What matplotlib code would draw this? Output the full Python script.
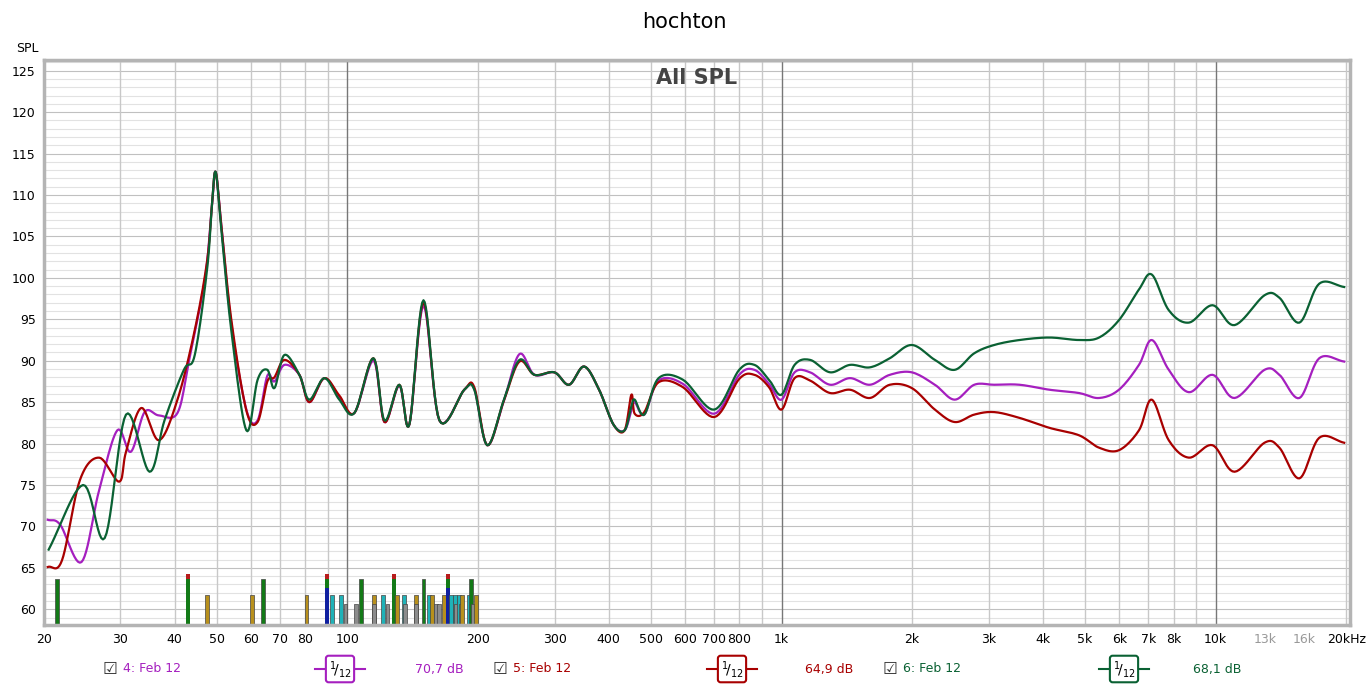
import numpy as np
import matplotlib
matplotlib.use("Agg")
import matplotlib.pyplot as plt

# ---- data ----
f_low_g = [20.5, 24.6, 27.6, 30.9, 35.0, 37.9, 42.0, 44.5, 47.5, 48.7]
g_low = [67.2, 75.0, 68.6, 83.5, 76.6, 82.8, 88.9, 90.7, 101.0, 108.5]
f_low_p = [20.4, 21.8, 24.4, 26.8, 29.5, 31.7, 34.1, 36.8, 40.6, 43.2, 47.0, 48.7]
p_low = [70.8, 70.2, 65.7, 74.4, 81.6, 79.0, 83.8, 83.4, 83.7, 90.1, 100.0, 108.5]
f_low_r = [20.4, 22.0, 24.2, 26.8, 29.8, 30.9, 33.5, 36.8, 40.6, 44.5, 47.5, 48.7]
r_low = [65.1, 65.9, 75.6, 78.3, 75.4, 79.0, 84.3, 80.4, 85.3, 93.7, 102.0, 108.5]

f_mid = [49.7, 51.2, 54.0, 58.5, 62.1, 65.4, 67.9, 71.6, 77.5, 81.7, 88.5, 95.8, 103.8,
         114.8, 121.7, 131.7, 138.9, 149.7, 162.9, 185.9, 196, 210, 229.4, 249,
         269.6, 299.7, 324, 351, 380, 410, 435, 451, 459, 483, 521, 593, 700,
         799, 866, 936]
g_mid = [112.8, 106.0, 93.7, 81.6, 87.7, 88.9, 86.7, 90.7, 88.3, 85.3, 87.9, 85.3, 83.7,
         90.3, 82.8, 87.1, 82.3, 97.3, 82.8, 86.5, 86.5, 79.8, 85.3, 90.1,
         88.3, 88.6, 87.1, 89.3, 86.5, 82.3, 81.6, 84.5, 85.3, 83.5, 87.9, 87.7, 84.1,
         88.9, 89.5, 87.7]
p_mid = [112.8, 106.5, 94.5, 84.1, 82.8, 88.2, 87.5, 89.5, 88.3, 85.0, 87.9, 85.6, 83.7,
         90.0, 82.6, 87.0, 82.3, 96.6, 82.8, 86.5, 86.6, 79.8, 85.2, 90.8,
         88.3, 88.6, 87.1, 89.3, 86.5, 82.3, 81.6, 84.0, 85.0, 83.5, 87.6, 87.2, 83.6,
         88.3, 88.9, 87.2]
r_mid = [112.8, 106.5, 95.0, 84.0, 82.6, 87.5, 88.0, 90.1, 88.3, 85.0, 87.9, 85.8, 83.7,
         90.3, 82.6, 87.1, 82.3, 97.0, 82.8, 86.5, 86.8, 79.8, 85.2, 89.9,
         88.3, 88.6, 87.1, 89.3, 86.5, 82.3, 81.6, 85.9, 83.6, 83.8, 87.4, 86.8, 83.2,
         87.8, 88.3, 86.8]

f_high = [1000, 1072, 1164, 1294, 1438, 1598, 1776, 1996, 2256, 2506, 2780, 3090,
          3534, 4140, 4846, 5390, 5990, 6660, 7130, 7800, 8680, 9840, 11060,
          12960, 14030, 15600, 17330, 19780]
g_high = [85.9, 89.5, 90.1, 88.6, 89.5, 89.2, 90.3, 91.9, 90.1, 88.9, 90.9, 91.9,
          92.5, 92.8, 92.5, 92.8, 94.9, 98.6, 100.4, 96.1, 94.6, 96.7, 94.3,
          97.9, 97.6, 94.6, 99.3, 98.9]
p_high = [85.3, 88.6, 88.6, 87.1, 87.9, 87.1, 88.3, 88.6, 87.1, 85.3, 87.1, 87.1,
          87.1, 86.5, 86.1, 85.5, 86.5, 89.5, 92.5, 88.9, 86.2, 88.3, 85.5,
          88.9, 88.3, 85.5, 90.3, 89.9]
r_high = [84.1, 87.9, 87.6, 86.1, 86.5, 85.5, 87.1, 86.7, 84.1, 82.6, 83.5, 83.8,
          83.1, 81.9, 81.0, 79.5, 79.2, 81.6, 85.3, 80.4, 78.3, 79.8, 76.6,
          80.1, 79.5, 75.8, 80.7, 80.1]

# resonance marker bars: (freq, top dB, kind)
bar_freqs = [21.4, 43.0, 47.5, 60.4, 63.9, 80.5, 89.6, 92.0, 96.5, 99.0, 104.9,
             107.7, 115.4, 115.4, 121.0, 123.7, 128.3, 130.0, 135.0, 136.0, 144.0,
             144.0, 149.7, 154.5, 156.5, 160.0, 162.5, 167.2, 170.6, 173.0, 177.0,
             178.0, 181.0, 183.0, 184.0, 191.0, 193.0, 194.5, 198.0]
bar_tops = [63.6, 64.3, 61.7, 61.7, 63.6, 61.7, 64.3, 61.7, 61.7, 60.6, 60.6,
            63.6, 61.7, 60.6, 61.7, 60.6, 64.3, 61.7, 61.7, 60.6, 61.7,
            60.6, 63.6, 61.7, 61.7, 60.6, 60.6, 61.7, 64.3, 61.7, 61.7,
            60.6, 61.7, 60.6, 61.7, 61.7, 63.6, 60.6, 61.7]
bar_kinds = ['g', 'gr', 'y', 'y', 'g', 'y', 'bgr', 'c', 'c', 'k', 'k',
             'g', 'y', 'k', 'c', 'k', 'gr', 'y', 'c', 'k', 'y',
             'k', 'g', 'c', 'y', 'k', 'k', 'y', 'bgr', 'c', 'c',
             'k', 'c', 'k', 'y', 'c', 'g', 'k', 'y']

x_ticks = [20, 30, 40, 50, 60, 70, 80, 100, 200, 300, 400, 500, 600, 700, 800,
           1000, 2000, 3000, 4000, 5000, 6000, 7000, 8000, 10000, 13000, 16000, 20000]
x_labels = ['20', '30', '40', '50', '60', '70', '80', '100', '200', '300', '400',
            '500', '600', '700', '800', '1k', '2k', '3k', '4k', '5k', '6k', '7k',
            '8k', '10k', '13k', '16k', '20kHz']
y_ticks = list(range(60, 126, 5))

GREEN = '#0a6133'
PURPLE = '#a51fbf'
RED = '#a80000'


def smooth(fl, vl, n=12):
    """Catmull-Rom drawing of the read points in log-frequency (rendering only)."""
    x = np.log10(np.asarray(fl, float))
    y = np.asarray(vl, float)
    xp = np.concatenate([[2*x[0]-x[1]], x, [2*x[-1]-x[-2]]])
    yp = np.concatenate([[2*y[0]-y[1]], y, [2*y[-1]-y[-2]]])
    xs, ys = [], []
    t = np.linspace(0, 1, n, endpoint=False)
    for i in range(1, len(xp)-2):
        p0, p1, p2, p3 = (np.array([xp[j], yp[j]]) for j in (i-1, i, i+1, i+2))
        for tt in t:
            pt = 0.5*((2*p1) + (-p0+p2)*tt + (2*p0-5*p1+4*p2-p3)*tt**2 + (-p0+3*p1-3*p2+p3)*tt**3)
            xs.append(pt[0]); ys.append(pt[1])
    xs.append(x[-1]); ys.append(y[-1])
    return 10**np.array(xs), np.array(ys)


fig = plt.figure(figsize=(13.69, 6.84), dpi=100)
ax = fig.add_axes([44/1369, 59/684, 1306/1369, 565/684])
ax.set_xscale('log')
ax.set_xlim(20.2, 20400)
ax.set_ylim(58.1, 126.3)

for yv in range(59, 127):
    ax.axhline(yv, color='#e2e2e2' if yv % 5 else '#c0c0c0', lw=0.8, zorder=0)
grid_f = [dec*m for dec in [10, 100, 1000, 10000] for m in range(1, 10)]
for fv in grid_f:
    if 20 <= fv <= 20400:
        dark = fv in (100, 1000, 10000)
        ax.axvline(fv, color='#777777' if dark else '#c8c8c8', lw=1.0, zorder=0)

ax.set_xticks(x_ticks)
ax.set_xticklabels(x_labels, fontsize=9)
for lbl in ax.get_xticklabels():
    if lbl.get_text() in ('13k', '16k'):
        lbl.set_color('#999999')
ax.xaxis.set_minor_locator(matplotlib.ticker.NullLocator())
ax.set_yticks(y_ticks)
ax.set_yticklabels([str(v) for v in y_ticks], fontsize=9)
ax.tick_params(length=0, pad=6)
for s in ax.spines.values():
    s.set_color('#b4b4b4')
    s.set_linewidth(2.5)

colmap = {'g': '#137a17', 'y': '#b8901c', 'c': '#1fb2b8', 'k': '#8c8c8c'}
w = 10**0.0045
for fq, top, kind in zip(bar_freqs, bar_tops, bar_kinds):
    left, right = fq/w, fq*w
    if kind in colmap:
        ax.fill_between([left, right], 58.1, top, color=colmap[kind],
                        edgecolor='#444444', lw=0.5, zorder=2)
    else:
        if kind == 'gr':
            segs = [(58.1, 63.6, '#137a17'), (63.6, top, '#b81c1c')]
        else:
            segs = [(58.1, 62.6, '#1020a0'), (62.6, 63.6, '#137a17'), (63.6, top, '#b81c1c')]
        for b0, b1, c in segs:
            ax.fill_between([left, right], b0, b1, color=c, lw=0, zorder=2)

ax.plot(*smooth(f_low_p + f_mid + f_high, p_low + p_mid + p_high), color=PURPLE, lw=1.6, zorder=3)
ax.plot(*smooth(f_low_r + f_mid + f_high, r_low + r_mid + r_high), color=RED, lw=1.6, zorder=4)
ax.plot(*smooth(f_low_g + f_mid + f_high, g_low + g_mid + g_high), color=GREEN, lw=1.6, zorder=5)

ax.text(0.5, 0.985, 'All SPL', transform=ax.transAxes, ha='center', va='top',
        fontsize=15, fontweight='bold', color='#444444')
fig.text(0.5, 1-22/684, 'hochton', ha='center', va='center', fontsize=15)
fig.text(16/1369, 1-48/684, 'SPL', ha='left', va='center', fontsize=9)

ly = 1-669/684
items = [(110, '4: Feb 12', PURPLE, 340, '70,7 dB', 415),
         (500, '5: Feb 12', RED, 732, '64,9 dB', 805),
         (890, '6: Feb 12', GREEN, 1124, '68,1 dB', 1193)]
for cx, name, col, sx, db, dx in items:
    fig.text(cx/1369, ly, '\u2611', ha='center', va='center', fontsize=12,
             color='#333333', family=['DejaVu Sans'])
    fig.text((cx+13)/1369, ly, name, ha='left', va='center', fontsize=9, color=col)
    fig.add_artist(plt.Line2D([(sx-25)/1369, (sx+25)/1369], [ly, ly], color=col,
                              lw=1.5, transform=fig.transFigure))
    fig.text(sx/1369, ly, r'$^1\!/_{12}$', ha='center', va='center', fontsize=10,
             bbox=dict(boxstyle='round,pad=0.2', fc='white', ec=col, lw=1.5))
    fig.text(dx/1369, ly, db, ha='left', va='center', fontsize=9, color=col)

fig.savefig('out.png', dpi=100)
